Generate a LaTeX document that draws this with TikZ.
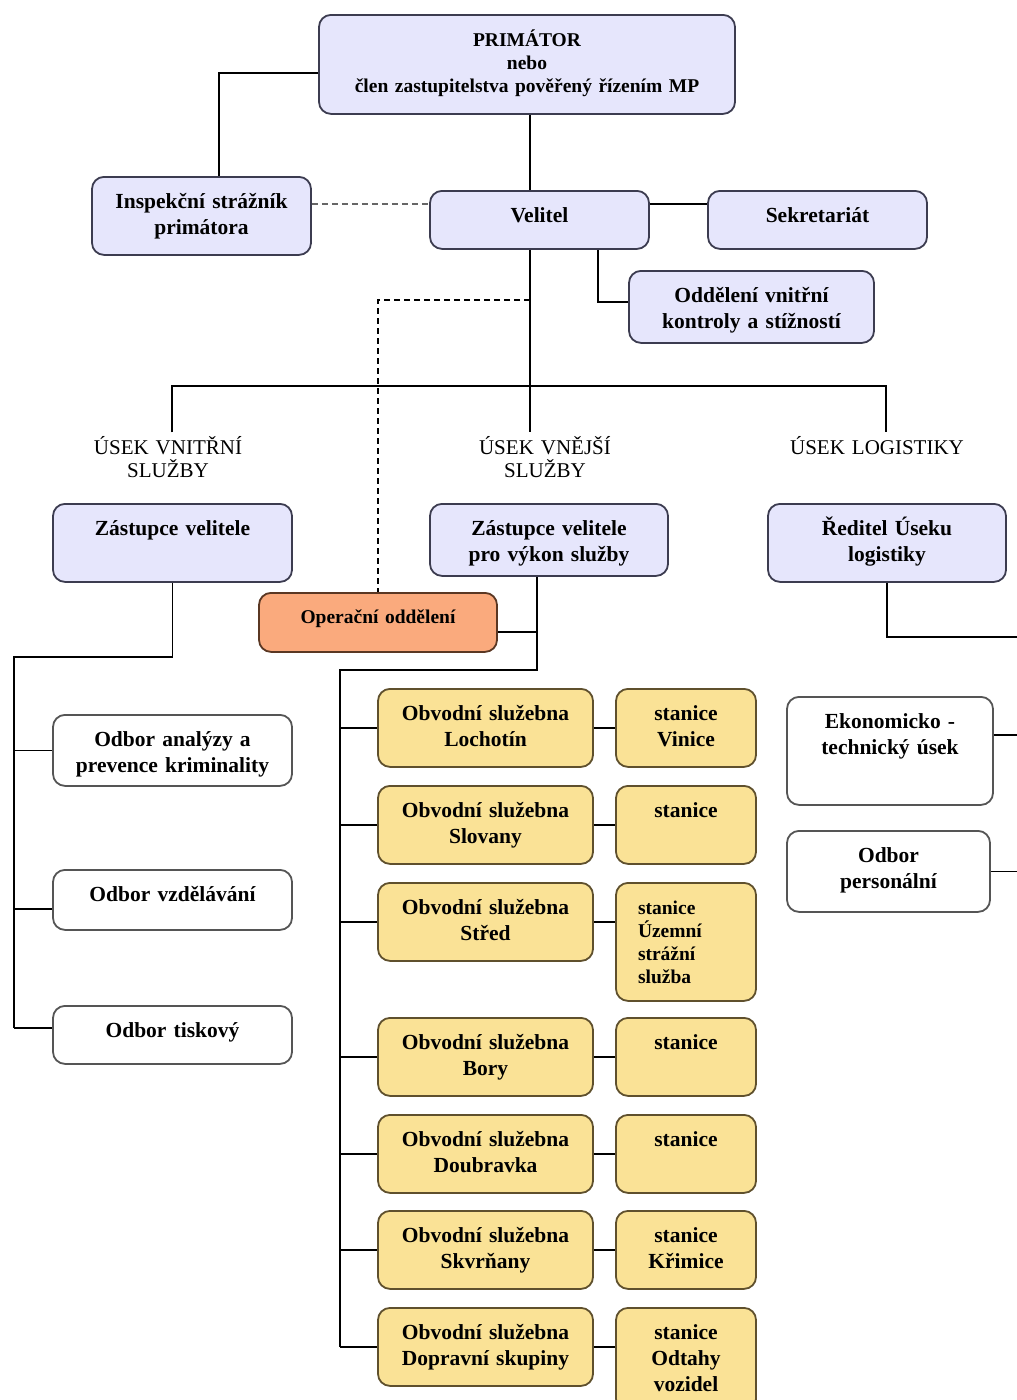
\documentclass[tikz,border=0pt]{standalone}
\usepackage{fontspec}
\setmainfont{Liberation Serif}
\usetikzlibrary{calc}

\definecolor{lav}{RGB}{230,230,252}
\definecolor{lavline}{RGB}{60,60,80}
\definecolor{osyellow}{RGB}{250,226,150}
\definecolor{osline}{RGB}{95,80,45}
\definecolor{oporange}{RGB}{250,170,125}
\definecolor{opline}{RGB}{90,55,35}
\definecolor{grayline}{RGB}{85,85,85}

\newcommand\boxfont{\fontsize{21.5}{26}\selectfont\bfseries}
\newcommand\smallboxfont{\fontsize{19.5}{23}\selectfont\bfseries}
\newcommand\usekfont{\fontsize{21}{23}\selectfont}

\tikzset{
  box/.style={line width=1.8pt, rounded corners=12pt, anchor=north,
    inner xsep=4pt, inner ysep=0pt, align=center, text height=32pt, font=\boxfont},
  lavbox/.style={box, draw=lavline, fill=lav},
  osbox/.style={box, draw=osline, fill=osyellow, text width=207pt, text depth=46pt},
  stbox/.style={box, draw=osline, fill=osyellow, text width=132pt},
  whitebox/.style={box, draw=grayline, fill=white},
  useklabel/.style={anchor=base, align=center, text width=200pt, font=\usekfont},
  conn/.style={line width=1.6pt, black},
}

\begin{document}
\begin{tikzpicture}[x=1pt, y=-1pt]
  \useasboundingbox (0,0) rectangle (1017,1400);
  \clip (0,0) rectangle (1017,1400);
  \fill[white] (0,0) rectangle (1017,1400);

  % top of the hierarchy
  \node[lavbox, font=\smallboxfont, text width=408pt, text depth=67pt] (primator) at (527,14)
    {PRIMÁTOR\\nebo\\člen zastupitelstva pověřený řízením MP};
  \node[lavbox, text width=211pt, text depth=46pt] (inspektor) at (201.5,176) {Inspekční strážník\\primátora};
  \node[lavbox, text width=211pt, text depth=26pt] (velitel) at (539.5,190) {Velitel};
  \node[lavbox, text width=211pt, text depth=26pt] (sekretariat) at (817.5,190) {Sekretariát};
  \node[lavbox, text width=237pt, text depth=40pt] (kontrola) at (751.5,270) {Oddělení vnitřní\\kontroly a stížností};

  % the three sections
  \node[useklabel] (usekvnitrni) at (168,454) {ÚSEK VNITŘNÍ\\SLUŽBY};
  \node[useklabel] (usekvnejsi) at (545,454) {ÚSEK VNĚJŠÍ\\SLUŽBY};
  \node[useklabel] (useklog) at (877,454) {ÚSEK LOGISTIKY};

  \node[lavbox, text width=231pt, text depth=46pt] (zastupce) at (172.5,503) {Zástupce velitele};
  \node[lavbox, text width=230pt, text depth=40pt] (zastupcevs) at (549,503) {Zástupce velitele\\pro výkon služby};
  \node[lavbox, text width=230pt, text depth=46pt] (reditel) at (887,503) {Ředitel Úseku\\logistiky};
  \node[box, draw=opline, fill=oporange, font=\smallboxfont, text height=31pt, text width=230pt, text depth=28pt]
    (operacni) at (378,592) {Operační oddělení};

  % internal service
  \node[whitebox, text width=231pt, text depth=39pt] (analyza) at (172.5,714) {Odbor analýzy a\\prevence kriminality};
  \node[whitebox, text width=231pt, text depth=28pt] (vzdelavani) at (172.5,869) {Odbor vzdělávání};
  \node[whitebox, text width=231pt, text depth=26pt] (tiskovy) at (172.5,1005) {Odbor tiskový};

  % logistics
  \node[whitebox, text width=198pt, text depth=76pt] (ekonom) at (890,696) {Ekonomicko -\\technický úsek};
  \node[whitebox, text width=195pt, text depth=49pt] (personal) at (888.5,830) {Odbor\\personální};

  % district stations
  \node[osbox] (os1) at (485.5,688) {Obvodní služebna\\Lochotín};
  \node[osbox] (os2) at (485.5,785) {Obvodní služebna\\Slovany};
  \node[osbox] (os3) at (485.5,882) {Obvodní služebna\\Střed};
  \node[osbox] (os4) at (485.5,1017) {Obvodní služebna\\Bory};
  \node[osbox] (os5) at (485.5,1114) {Obvodní služebna\\Doubravka};
  \node[osbox] (os6) at (485.5,1210) {Obvodní služebna\\Skvrňany};
  \node[osbox] (os7) at (485.5,1307) {Obvodní služebna\\Dopravní skupiny};

  \node[stbox, text depth=46pt] (st1) at (686,688) {stanice\\Vinice};
  \node[stbox, text depth=46pt] (st2) at (686,785) {stanice};
  \node[stbox, align=left, font=\smallboxfont, inner xsep=22pt, text width=96pt, text depth=86pt]
    (st3) at (686,882) {stanice\\Územní\\strážní\\služba};
  \node[stbox, text depth=46pt] (st4) at (686,1017) {stanice};
  \node[stbox, text depth=46pt] (st5) at (686,1114) {stanice};
  \node[stbox, text depth=46pt] (st6) at (686,1210) {stanice\\Křimice};
  \node[stbox, text depth=71pt] (st7) at (686,1307) {stanice\\Odtahy\\vozidel};

  % helper points of the connectors
  \coordinate (bar) at (530,386);
  \coordinate (barL) at (172,386);
  \coordinate (barR) at (886,386);
  \coordinate (kk) at (598,302);
  \coordinate (dd) at (378,300);
  \coordinate (railL) at (14,657);
  \coordinate (vs) at (537,670);
  \coordinate (railM) at (340,670);
  \coordinate (railR) at (1030,637);

  % connectors at the top
  \draw[conn] ([yshift=-8.5pt]primator.west) -| ([xshift=17.5pt]inspektor.north);
  \draw[gray!80!black, line width=1.8pt, dash pattern=on 6pt off 4pt]
    ([yshift=12pt]inspektor.east) -- ([yshift=12pt]inspektor.east -| velitel.west);
  \draw[conn] (primator.south -| bar) -- (velitel.north -| bar);
  \draw[conn] ([yshift=16pt]velitel.east) -- ([yshift=16pt]velitel.east -| sekretariat.west);
  \draw[conn] (velitel.south -| kk) -- (kk) -- (kk -| kontrola.west);
  \draw[conn] (velitel.south -| bar) -- (bar |- usekvnejsi.north);
  \draw[conn] (barL |- usekvnitrni.north) -- (barL) -- (barR) -- (barR |- useklog.north);
  \draw[conn, line width=1.3pt, dash pattern=on 6pt off 4pt] (dd -| bar) -- (dd) -- (operacni.north);

  % internal service
  \draw[conn] (zastupce.south) |- (railL) -- ([yshift=7pt]tiskovy.west -| railL);
  \draw[conn] (railL |- analyza.west) -- (analyza.west);
  \draw[conn] ([yshift=-9pt]vzdelavani.west -| railL) -- ([yshift=-9pt]vzdelavani.west);
  \draw[conn] ([yshift=7pt]tiskovy.west -| railL) -- ([yshift=7pt]tiskovy.west);

  % external service
  \draw[conn] (zastupcevs.south -| vs) -- (vs) -- (railM) -- (railM |- os7.west);
  \draw[conn] ([yshift=-9.5pt]operacni.east) -- ([yshift=-9.5pt]operacni.east -| vs);
  \foreach \i in {1,...,7}
    \draw[conn] (railM |- os\i.west) -- (os\i.west);
  \foreach \i in {1,...,7}
    \draw[conn] (os\i.east) -- (os\i.east -| st\i.west);

  % logistics
  \draw[conn] (reditel.south) |- (railR) -- (railR |- personal.east) -- (personal.east);
  \draw[conn] ([yshift=16pt]ekonom.east) -- ([yshift=16pt]ekonom.east -| railR);
\end{tikzpicture}
\end{document}
